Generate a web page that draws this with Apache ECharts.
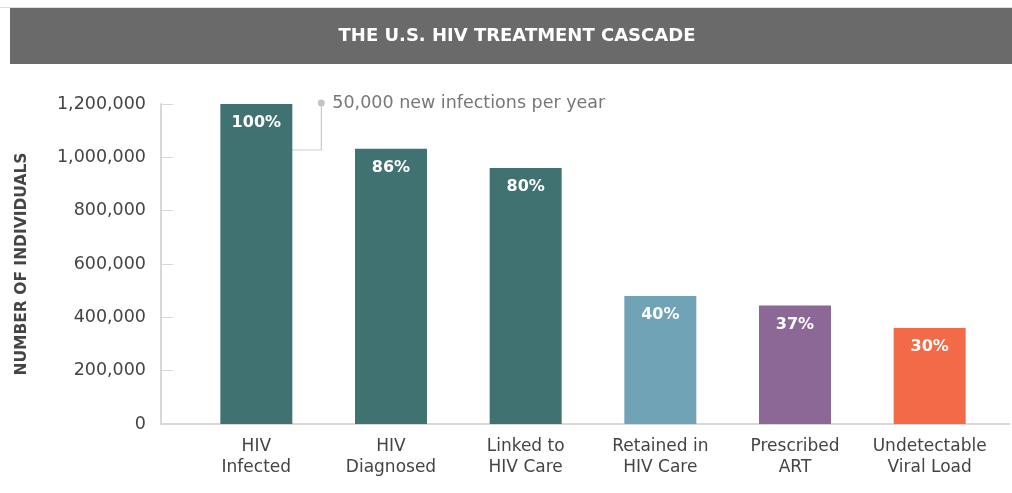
<!DOCTYPE html>
<html><head><meta charset="utf-8">
<script src="https://cdn.jsdelivr.net/npm/echarts@6/dist/echarts.min.js"></script>
<style>html,body{margin:0;padding:0;background:#fff}#c{width:1012px;height:493px}</style>
</head><body><div id="c"></div>
<script>
var categories = ['HIV\nInfected','HIV\nDiagnosed','Linked to\nHIV Care','Retained in\nHIV Care','Prescribed\nART','Undetectable\nViral Load'];
var values = [1200000, 1032000, 960000, 480000, 444000, 360000];
var percentLabels = ['100%','86%','80%','40%','37%','30%'];
var barColors = ['#407272','#407272','#407272','#6fa3b5','#8b6896','#f26a47'];
var yTicks = [0, 200000, 400000, 600000, 800000, 1000000, 1200000];
var titleText = 'THE U.S. HIV TREATMENT CASCADE';
var annotationText = '50,000 new infections per year';
var FONT = '"DejaVu Sans", "Open Sans", sans-serif';

var chart = echarts.init(document.getElementById('c'), null, {renderer:'canvas'});
var option = {
  animation: false,
  textStyle: {fontFamily: FONT},
  grid: {left: 189, right: 15, top: 104, bottom: 69, containLabel: false},
  xAxis: {
    type: 'category', data: categories,
    axisLine: {show: false}, axisTick: {show: false},
    axisLabel: {color: '#444', fontSize: 17, lineHeight: 21, margin: 12, fontFamily: FONT, interval: 0}
  },
  yAxis: {
    type: 'value', min: yTicks[0], max: yTicks[yTicks.length-1], interval: 200000, offset: 28,
    name: 'NUMBER OF INDIVIDUALS', nameLocation: 'middle', nameGap: 131, nameRotate: 90,
    nameTextStyle: {color: '#444', fontSize: 15.5, fontWeight: 'bold', fontFamily: FONT},
    axisLine: {show: true, lineStyle: {color: '#d8d8d8', width: 2}},
    axisTick: {show: true, inside: true, length: 12, lineStyle: {color: '#d8d8d8', width: 1}},
    splitLine: {show: false},
    axisLabel: {color: '#444', fontSize: 17.5, margin: 15, fontFamily: FONT,
      formatter: function(v){ return v.toLocaleString('en-US'); }}
  },
  series: [{
    type: 'bar', barWidth: 72,
    data: values.map(function(v,i){ return {value: v, itemStyle: {color: barColors[i]}}; }),
    label: {show: true, position: 'insideTop', distance: 11, color: '#fff', fontSize: 16, fontWeight: 'bold', fontFamily: FONT,
      formatter: function(p){ return percentLabels[p.dataIndex]; }}
  }]
};
chart.setOption(option);

var p0 = chart.convertToPixel({gridIndex:0}, [0, yTicks[0]]);
var pTop = chart.convertToPixel({gridIndex:0}, [0, values[0]]);
var dotX = pTop[0] + 65, dotY = pTop[1] - 1;
chart.setOption({graphic: [
  {type:'line', shape:{x1:0, y1:7.5, x2:1012, y2:7.5}, style:{stroke:'#dddddd', lineWidth:1}},
  {type:'rect', shape:{x:10, y:8, width:1002, height:56}, style:{fill:'#6a6a6a'}},
  {type:'text', x:517, y:36, style:{text:titleText, fill:'#fff', fontSize:18, fontWeight:'bold', fontFamily:FONT, align:'center', verticalAlign:'middle'}},
  {type:'line', shape:{x1:161, y1:p0[1], x2:1010, y2:p0[1]}, style:{stroke:'#d8d8d8', lineWidth:2}},
  {type:'polyline', shape:{points:[[dotX, dotY],[dotX, dotY+47],[pTop[0]+26, dotY+47]]}, style:{stroke:'#cccccc', lineWidth:1.2, fill:null}},
  {type:'circle', shape:{cx:dotX, cy:dotY, r:3.5}, style:{fill:'#c4c4c4'}},
  {type:'text', x:dotX+11, y:dotY, style:{text:annotationText, fill:'#777', fontSize:17.5, fontFamily:FONT, verticalAlign:'middle'}}
]});
</script></body></html>
